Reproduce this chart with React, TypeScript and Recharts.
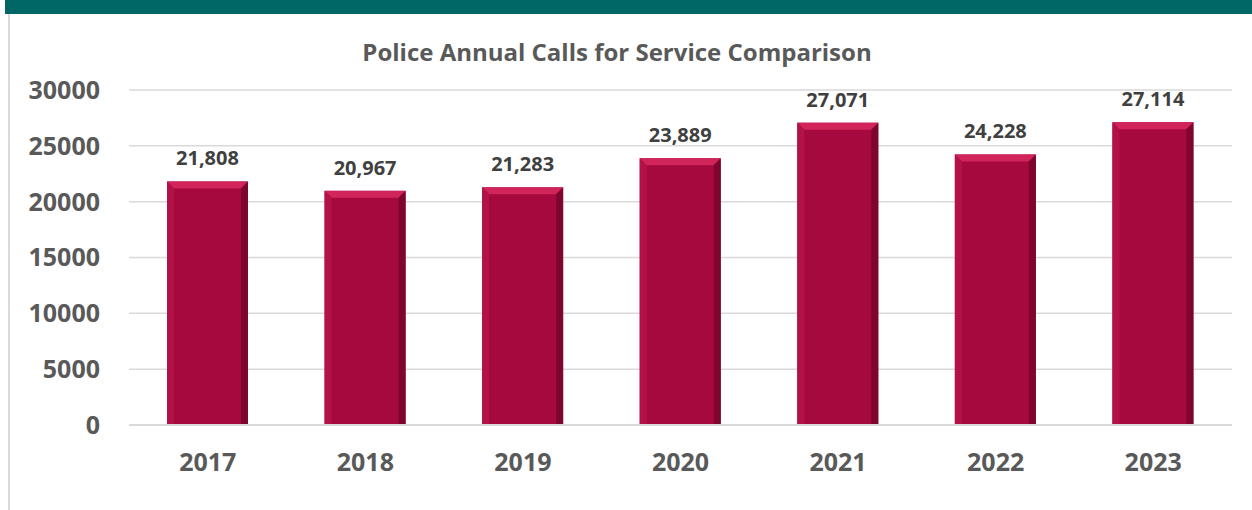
import React from "react";
import { BarChart, Bar, XAxis, YAxis, CartesianGrid, LabelList } from "recharts";

const years = ["2017", "2018", "2019", "2020", "2021", "2022", "2023"];
const calls = [21808, 20967, 21283, 23889, 27071, 24228, 27114];
const yTicks = [0, 5000, 10000, 15000, 20000, 25000, 30000];

const data = years.map((year, i) => ({ year, calls: calls[i] }));

const FONT = "'Open Sans', 'Liberation Sans', sans-serif";

// bar with a small bevel on top and shaded sides
const BevelBar = (props: any) => {
    const { x, y, width, height } = props;
    const b = 7;
    return (
        <g>
            <rect x={x} y={y} width={width} height={height} fill="#A6093D" />
            <polygon points={`${x},${y} ${x + width},${y} ${x + width - b},${y + b} ${x + b},${y + b}`} fill="#D0245A" />
            <polygon points={`${x},${y} ${x + b},${y + b} ${x + b},${y + height} ${x},${y + height}`} fill="#B21247" />
            <polygon points={`${x + width},${y} ${x + width - b},${y + b} ${x + width - b},${y + height} ${x + width},${y + height}`} fill="#7E0530" />
        </g>
    );
};

export default function App() {
    return (
        <div style={{ position: "absolute", left: 0, top: 0, width: 1252, height: 510, background: "#fff", overflow: "hidden" }}>
            <div style={{ position: "absolute", left: 5, top: 0, width: 1247, height: 14, background: "#006666" }} />
            <div style={{ position: "absolute", left: 8, top: 14, width: 2, height: 496, background: "#d9d9d9" }} />
            <div
                style={{
                    position: "absolute",
                    left: 0,
                    width: 1234,
                    top: 35,
                    textAlign: "center",
                    fontFamily: FONT,
                    fontWeight: 700,
                    fontSize: 24,
                    color: "#595959",
                }}
            >
                Police Annual Calls for Service Comparison
            </div>
            <div style={{ position: "absolute", left: 0, top: 0 }}>
                <BarChart width={1252} height={510} data={data} margin={{ top: 90, right: 20, left: 0, bottom: 0 }} barSize={81}>
                    <CartesianGrid vertical={false} stroke="#d9d9d9" strokeWidth={1.5} />
                    <XAxis
                        dataKey="year"
                        height={85}
                        tickLine={false}
                        axisLine={{ stroke: "#d9d9d9", strokeWidth: 2 }}
                        tickSize={0}
                        tickMargin={28}
                        tick={{ fill: "#595959", fontSize: 25, fontWeight: 700, fontFamily: FONT }}
                    />
                    <YAxis
                        width={129}
                        domain={[0, 30000]}
                        ticks={yTicks}
                        axisLine={false}
                        tickLine={false}
                        tickSize={0}
                        tickMargin={29}
                        tick={{ fill: "#595959", fontSize: 25, fontWeight: 700, fontFamily: FONT }}
                    />
                    <Bar dataKey="calls" shape={BevelBar} isAnimationActive={false}>
                        <LabelList
                            dataKey="calls"
                            position="top"
                            offset={16}
                            formatter={(v: any) => Number(v).toLocaleString("en-US")}
                            style={{ fill: "#404040", fontSize: 20, fontWeight: 700, fontFamily: FONT }}
                        />
                    </Bar>
                </BarChart>
            </div>
        </div>
    );
}
